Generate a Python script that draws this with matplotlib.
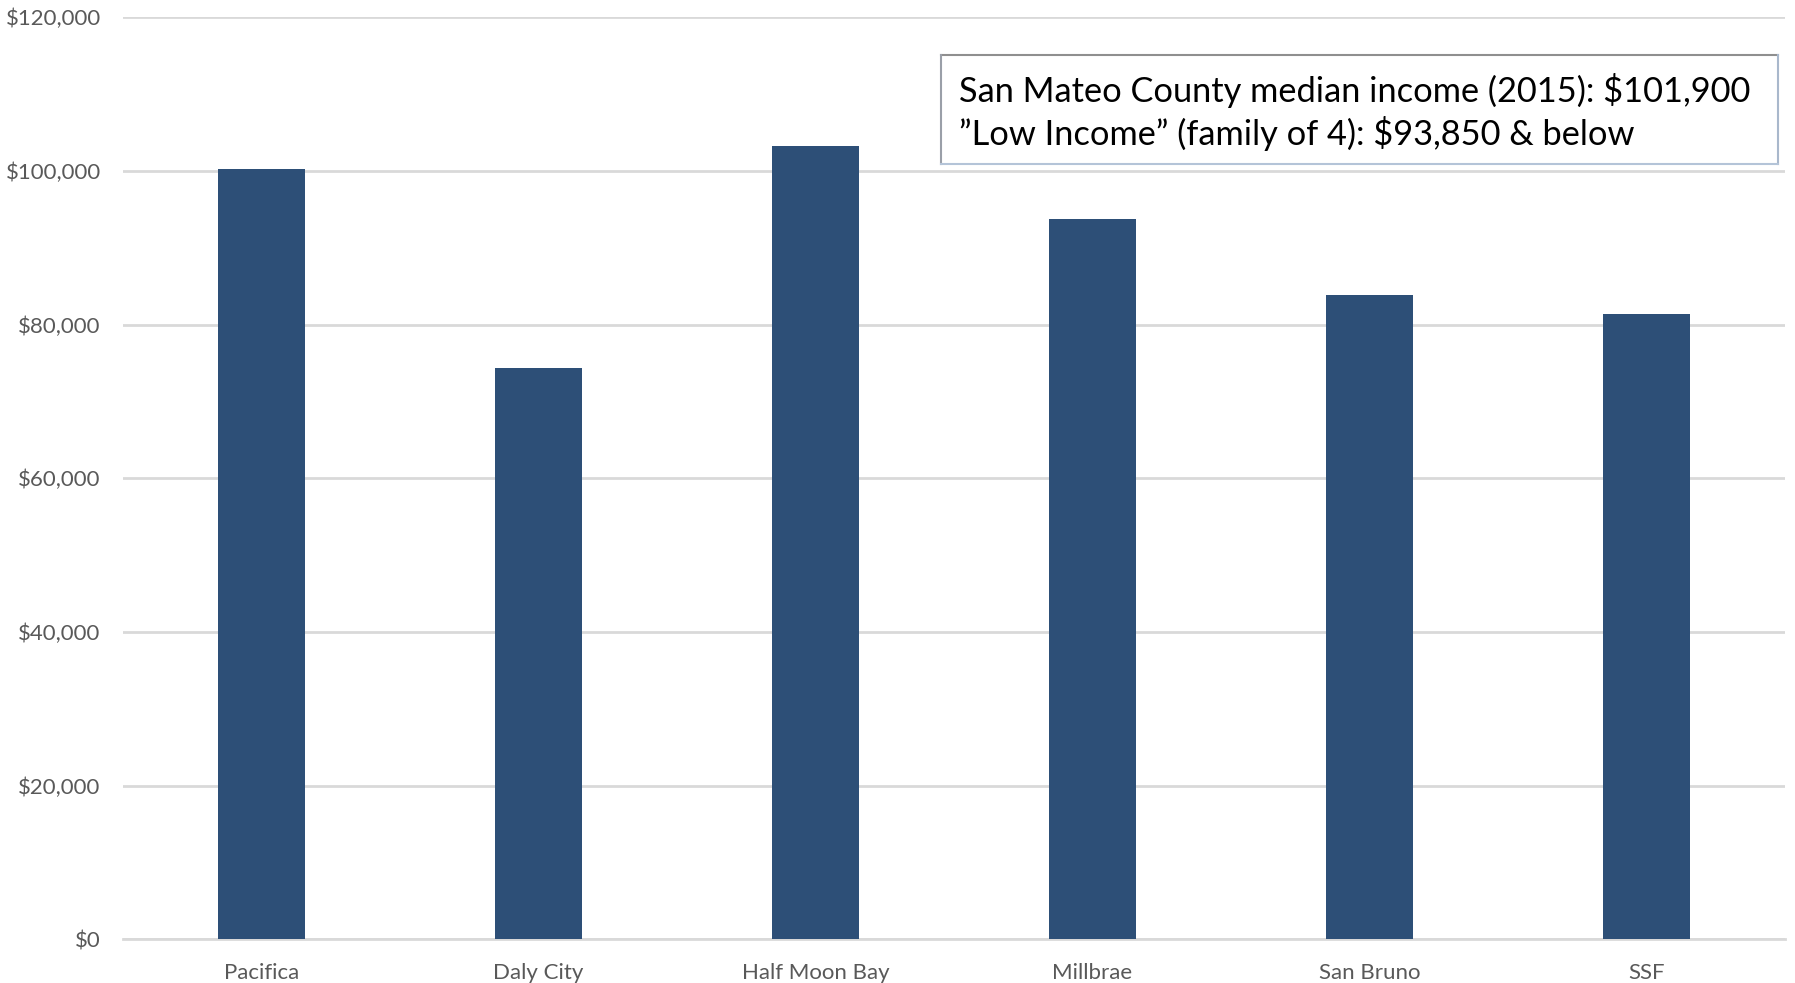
import matplotlib.pyplot as plt
from matplotlib.lines import Line2D
from matplotlib.ticker import FuncFormatter

cities = ["Pacifica", "Daly City", "Half Moon Bay", "Millbrae", "San Bruno", "SSF"]
median_income = [100200, 74400, 103300, 93800, 83800, 81400]
y_ticks = [0, 20000, 40000, 60000, 80000, 100000, 120000]
note_lines = [
    "San Mateo County median income (2015): $101,900",
    "\u201dLow Income\u201d (family of 4): $93,850 & below",
]

plt.rcParams["font.family"] = ["Lato", "DejaVu Sans"]

fig = plt.figure(figsize=(17.95, 9.83), dpi=100)
ax = fig.add_axes([0.0685, 0.0445, 0.926, 0.938])

x = range(len(cities))
ax.bar(x, median_income, width=0.314, color="#2D4F77", zorder=3)

ax.set_xlim(-0.5, len(cities) - 0.5)
ax.set_ylim(0, 120000)
ax.set_yticks(y_ticks)
ax.yaxis.set_major_formatter(FuncFormatter(lambda v, _: f"${v:,.0f}"))
ax.set_xticks(list(x))
ax.set_xticklabels(cities)

ax.grid(axis="y", color="#D9D9D9", linewidth=2, zorder=0)
for side in ["top", "right", "left"]:
    ax.spines[side].set_visible(False)
ax.spines["bottom"].set_color("#D9D9D9")
ax.spines["bottom"].set_linewidth(2)
ax.tick_params(axis="both", length=0, labelsize=16, labelcolor="#595959")
ax.tick_params(axis="y", pad=16)
ax.tick_params(axis="x", pad=17)

# note box: white rectangle with grey top/left and pale blue bottom/right edges
x0, x1, y0, y1 = 0.5242, 0.9905, 0.8332, 0.9441
box = plt.Rectangle((x0, y0), x1 - x0, y1 - y0, transform=fig.transFigure,
                    facecolor="white", edgecolor="none", zorder=5)
fig.add_artist(box)
for xs, ys, c in [([x0, x1], [y1, y1], "#8F8F8F"), ([x0, x0], [y0, y1], "#9A9FA8"),
                  ([x1, x1], [y0, y1], "#A9B8CC"), ([x0, x1], [y0, y0], "#B4C4D8")]:
    fig.add_artist(Line2D(xs, ys, transform=fig.transFigure, color=c,
                          linewidth=1.5, zorder=6))
for line, ty in zip(note_lines, [0.9082, 0.8637]):
    fig.text(0.5344, ty, line, fontsize=24.75, color="black", va="center",
             ha="left", zorder=7)

fig.savefig("out.png", dpi=100)
plt.close(fig)
